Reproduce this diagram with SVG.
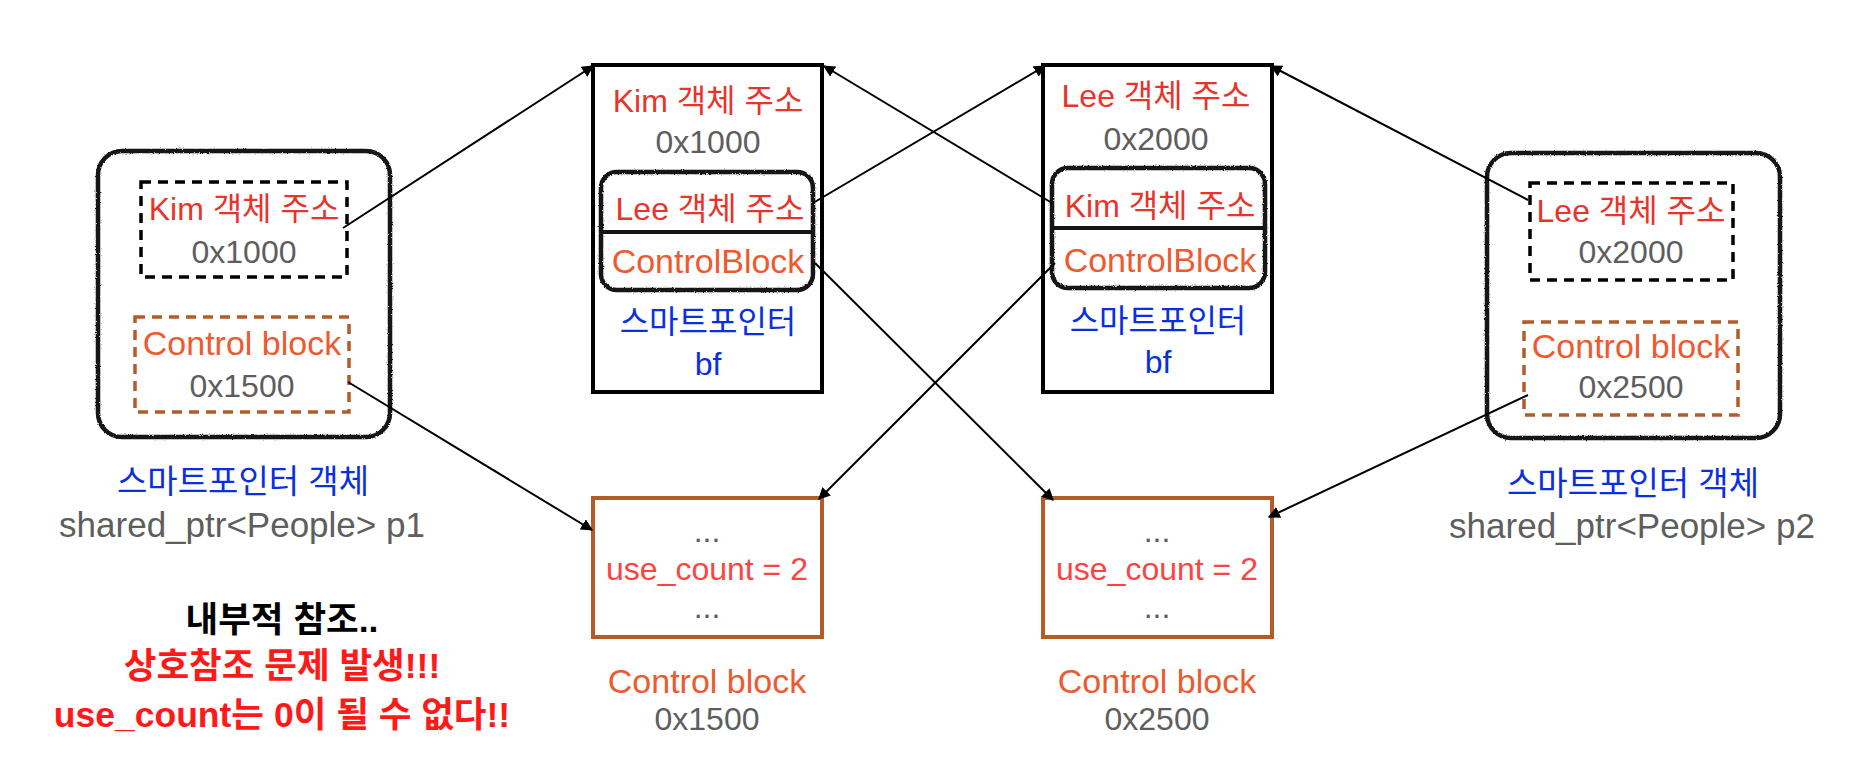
<svg xmlns="http://www.w3.org/2000/svg" width="1860" height="772" viewBox="0 0 1860 772">
<defs>
<style>
text{font-family:"Liberation Sans","Noto Sans CJK KR",sans-serif;font-size:32px;text-anchor:middle}
.red{fill:#E8342B}
.org{fill:#EE5A30}
.gry{fill:#5E5E5E}
.blu{fill:#0A2FE0}
.uc{fill:#FF4343}
.big{font-size:34px}
.lbl{font-size:35px}
.klbl{font-size:33px}
.bold{font-weight:bold;font-size:35.5px}
.rough{fill:none;stroke:#141414;stroke-width:4.5;filter:url(#rgh)}
.div{stroke:#141414;stroke-width:4}
.dblk{fill:none;stroke:#000;stroke-width:3.5;stroke-dasharray:10 7}
.dorg{fill:none;stroke:#B35C28;stroke-width:3.5;stroke-dasharray:10 7}
.box{fill:#fff;stroke:#000;stroke-width:4}
.cb{fill:#fff;stroke:#B35C28;stroke-width:4}
.conn{stroke:#000;stroke-width:2;fill:none;marker-end:url(#ah)}
</style>
<filter id="rgh" x="-5%" y="-5%" width="110%" height="110%">
<feTurbulence type="fractalNoise" baseFrequency="0.9" numOctaves="2" seed="3" result="n"/>
<feDisplacementMap in="SourceGraphic" in2="n" scale="2.5" xChannelSelector="R" yChannelSelector="G"/>
</filter>
<marker id="ah" viewBox="0 0 10 10" refX="9" refY="5" markerWidth="12" markerHeight="12" orient="auto" markerUnits="userSpaceOnUse">
<path d="M0,0 L10,5 L0,10 z" fill="#000"/>
</marker>
</defs>
<rect width="1860" height="772" fill="#fff"/>

<g id="p1">
<rect class="rough" x="98" y="151" width="292" height="286" rx="24"/>
<rect class="dblk" x="141" y="182" width="206" height="95"/>
<text class="red" x="244" y="220">Kim 객체 주소</text>
<text class="gry" x="244" y="263">0x1000</text>
<rect class="dorg" x="135" y="317" width="214" height="95"/>
<text class="org big" x="242" y="355">Control block</text>
<text class="gry" x="242" y="397">0x1500</text>
<text class="blu klbl" x="243" y="493">스마트포인터 객체</text>
<text class="gry lbl" x="242" y="537">shared_ptr&lt;People&gt; p1</text>
</g>

<g id="kim">
<rect class="box" x="593" y="65" width="229" height="327"/>
<text class="red" x="708" y="112">Kim 객체 주소</text>
<text class="gry" x="708" y="153">0x1000</text>
<rect class="rough" x="601" y="172" width="212" height="118" rx="16"/>
<line class="div" x1="602" y1="232" x2="812" y2="232"/>
<text class="red" x="710" y="220">Lee 객체 주소</text>
<text class="org big" x="708" y="273">ControlBlock</text>
<text class="blu" x="708" y="333">스마트포인터</text>
<text class="blu" x="708" y="375">bf</text>
</g>

<g id="lee">
<rect class="box" x="1043" y="65" width="229" height="327"/>
<text class="red" x="1156" y="107">Lee 객체 주소</text>
<text class="gry" x="1156" y="150">0x2000</text>
<rect class="rough" x="1052" y="168" width="213" height="120" rx="16"/>
<line class="div" x1="1053" y1="228" x2="1264" y2="228"/>
<text class="red" x="1160" y="217">Kim 객체 주소</text>
<text class="org big" x="1160" y="272">ControlBlock</text>
<text class="blu" x="1158" y="332">스마트포인터</text>
<text class="blu" x="1158" y="373">bf</text>
</g>

<g id="p2">
<rect class="rough" x="1487" y="153" width="293" height="285" rx="24"/>
<rect class="dblk" x="1530" y="183" width="203" height="97"/>
<text class="red" x="1631" y="222">Lee 객체 주소</text>
<text class="gry" x="1631" y="263">0x2000</text>
<rect class="dorg" x="1524" y="322" width="214" height="93"/>
<text class="org big" x="1631" y="358">Control block</text>
<text class="gry" x="1631" y="398">0x2500</text>
<text class="blu klbl" x="1633" y="495">스마트포인터 객체</text>
<text class="gry lbl" x="1632" y="538">shared_ptr&lt;People&gt; p2</text>
</g>

<g id="cb1">
<rect class="cb" x="593" y="498" width="229" height="139"/>
<text class="gry" x="707" y="542">...</text>
<text class="uc" x="707" y="580">use_count = 2</text>
<text class="gry" x="707" y="618">...</text>
<text class="org big" x="707" y="693">Control block</text>
<text class="gry" x="707" y="730">0x1500</text>
</g>

<g id="cb2">
<rect class="cb" x="1043" y="498" width="229" height="139"/>
<text class="gry" x="1157" y="542">...</text>
<text class="uc" x="1157" y="580">use_count = 2</text>
<text class="gry" x="1157" y="618">...</text>
<text class="org big" x="1157" y="693">Control block</text>
<text class="gry" x="1157" y="730">0x2500</text>
</g>

<g id="note">
<text class="bold" x="282" y="632" fill="#000">내부적 참조..</text>
<text class="bold" x="282" y="678" fill="#FF1A1A">상호참조 문제 발생!!!</text>
<text class="bold" x="282" y="727" fill="#FF1A1A">use_count는 0이 될 수 없다!!</text>
</g>

<g id="connectors">
<line class="conn" x1="343" y1="228" x2="593" y2="66"/>
<line class="conn" x1="348" y1="382" x2="592" y2="530"/>
<line class="conn" x1="813" y1="203" x2="1045" y2="66"/>
<line class="conn" x1="815" y1="263" x2="1053" y2="500"/>
<line class="conn" x1="1052" y1="203" x2="824" y2="66"/>
<line class="conn" x1="1055" y1="263" x2="819" y2="499"/>
<line class="conn" x1="1528" y1="200" x2="1271" y2="66"/>
<line class="conn" x1="1528" y1="395" x2="1269" y2="517"/>
</g>
</svg>
